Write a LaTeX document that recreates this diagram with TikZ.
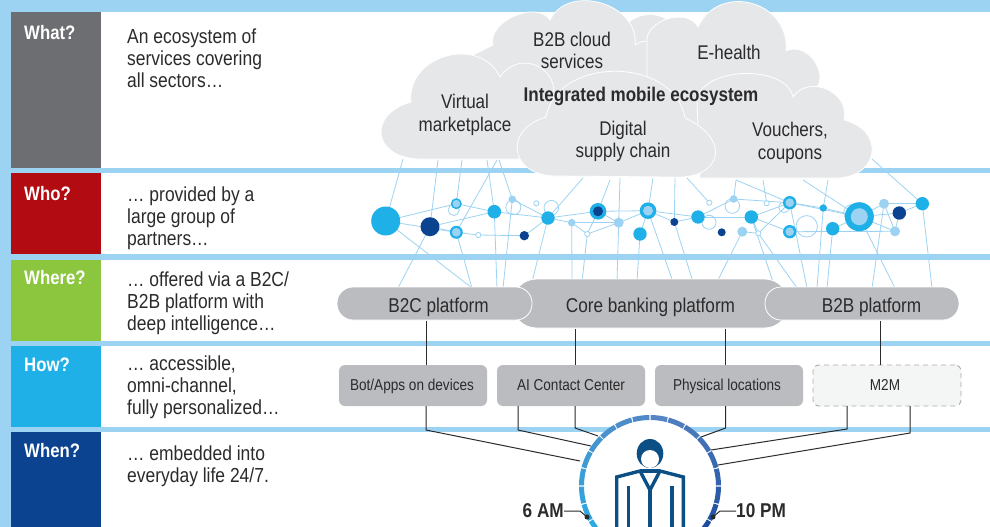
\documentclass[tikz,border=0pt]{standalone}
\usepackage{fontspec}
\setmainfont{Liberation Sans}[FakeStretch=0.86]
\usetikzlibrary{calc}
\definecolor{bandblue}{HTML}{9DD3F2}
\definecolor{cyandot}{HTML}{1FB0E8}
\definecolor{navydot}{HTML}{0C4391}
\definecolor{cloudgray}{HTML}{E6E7E8}
\definecolor{platgray}{HTML}{BBBCBF}
\definecolor{inkgray}{HTML}{2B2A2C}
\definecolor{ringL}{HTML}{2DAAE1}
\definecolor{ringM}{HTML}{5585C4}
\definecolor{ringR}{HTML}{1F4E9E}
\definecolor{suitblue}{HTML}{0B4F85}
\tikzstyle{rowbox}=[rectangle,anchor=north west,inner sep=0pt,minimum width=90pt]
\tikzstyle{rowhead}=[anchor=west,inner sep=0pt,text=white,font=\fontsize{19.5}{22}\selectfont\bfseries]
\tikzstyle{rowtext}=[anchor=north west,inner sep=0pt,align=left,text=inkgray,font=\fontsize{20.3}{22}\selectfont]
\tikzstyle{cloud}=[fill=cloudgray,draw=white,line width=0.8pt]
\tikzstyle{cloudtext}=[align=center,inner sep=0pt,text=inkgray,font=\fontsize{19.8}{22.5}\selectfont]
\tikzstyle{lobe}=[bend left=80,looseness=#1]
\tikzstyle{link}=[draw=bandblue,line width=0.8pt]
\tikzstyle{dotc}=[circle,fill=cyandot,inner sep=0pt]
\tikzstyle{dotn}=[circle,fill=navydot,inner sep=0pt]
\tikzstyle{dotl}=[circle,fill=bandblue,inner sep=0pt]
\tikzstyle{platform}=[rectangle,rounded corners=16pt,fill=platgray,draw=white,line width=0.8pt,inner sep=0pt,text height=17.4pt,text depth=0pt,text=inkgray,font=\fontsize{20}{22}\selectfont]
\tikzstyle{channel}=[rectangle,rounded corners=6pt,fill=platgray,inner sep=0pt,minimum width=148pt,minimum height=41pt,text height=11pt,text depth=0.5pt,text=inkgray,font=\fontsize{15.8}{18}\selectfont]
\tikzstyle{wire}=[draw=inkgray,line width=1pt]
\tikzstyle{timetext}=[inner sep=0pt,text=inkgray,font=\fontsize{20}{22}\selectfont\bfseries]
\begin{document}
\begin{tikzpicture}[x=1pt,y=-1pt]
  \useasboundingbox (0,0) rectangle (990,527);
  \fill[bandblue] (0,0) rectangle (990,527);
  \fill[white] (101,12) rectangle (990,168);
  \fill[white] (101,173) rectangle (990,254);
  \fill[white] (101,260) rectangle (990,341);
  \fill[white] (101,346) rectangle (990,427);
  \fill[white] (101,432) rectangle (990,527);

  % rows
  \node[rowbox,fill={rgb,255:red,109;green,110;blue,113},minimum height=156pt] (whatbox) at (11,12) {};
  \node[rowbox,fill={rgb,255:red,178;green,12;blue,18},minimum height=81pt] (whobox) at (11,173) {};
  \node[rowbox,fill={rgb,255:red,140;green,198;blue,63},minimum height=81pt] (wherebox) at (11,260) {};
  \node[rowbox,fill=cyandot,minimum height=81pt] (howbox) at (11,346) {};
  \node[rowbox,fill=navydot,minimum height=95pt] (whenbox) at (11,432) {};
  \node[rowhead] (what) at (24,33) {What?};
  \node[rowhead] (who) at (24,194) {Who?};
  \node[rowhead] (where) at (24,278) {Where?};
  \node[rowhead] (how) at (24,365) {How?};
  \node[rowhead] (when) at (24,451) {When?};
  \node[rowtext] (whattext) at (127,29) {An ecosystem of\\services covering\\all sectors…};
  \node[rowtext] (whotext) at (127,187) {… provided by a\\large group of\\partners…};
  \node[rowtext] (wheretext) at (127,272) {… offered via a B2C/\\B2B platform with\\deep intelligence…};
  \node[rowtext] (howtext) at (127,356) {… accessible,\\omni-channel,\\fully personalized…};
  \node[rowtext] (whentext) at (127,446) {… embedded into\\everyday life 24/7.};

  % network
  \foreach \nm/\px/\py in {
    n1/385.7/221, n2/430/226.7, n3/456.3/203.7, n4/456.3/232.3, n5/478.3/235, n6/494.3/211.7, n7/512.3/199.3,
    n8/536.3/203.3, n10/548/218, n11/524.3/235.7, n12/571.7/222.7, n13/587.3/234, n14/598/211.3, n15/618.7/222.7,
    n16/648/210.7, n17/640/234, n18/674.3/222, n19/698/217, n20/721.7/232.3, n21/733.7/199, n22/709.3/202.7,
    n23/766.7/203.3, n24/751.3/217, n25/742.3/231.7, n26/758.3/233.3, n27/789.7/202.7, n28/789.7/231.7,
    n29/823.3/208, n30/832.7/228.7, n31/859.3/216.7, n32/884/203.7, n33/899.3/213, n34/895/231.3, n35/922.3/203.7}
    \coordinate (\nm) at (\px,\py);
  \foreach \a/\b in {n1/n3,n1/n4,n2/n4,n2/n6,n3/n6,n4/n5,n5/n11,n11/n10,n6/n10,n7/n10,n10/n14,n10/n12,n12/n15,n12/n13,
    n13/n15,n13/n14,n14/n16,n15/n16,n16/n17,n16/n19,n16/n18,n18/n19,n19/n21,n19/n24,n21/n27,n24/n27,n24/n26,n25/n26,
    n26/n27,n27/n29,n29/n31,n24/n28,n31/n32,n31/n33,n31/n34,n32/n34,n33/n34,n33/n35,n32/n35,n30/n31,n28/n34,n14/n15,n27/n31}
    \draw[link] (\a)--(\b);
  \foreach \a/\px/\py in {n1/403/159,n2/438/160,n3/462/160,n6/487/160,n4/497/160,n7/499/160,n10/583/178,n14/610/180,
    n15/620/178,n16/653/178,n18/675/178,n22/687/178,n21/736/180,n27/736/180,n23/763/180,n31/803/180,n29/828/180,n35/872/159,
    n2/398/288,n1/472/288,n4/472/288,n6/497/288,n7/503/288,n10/532/282,n12/572/282,n13/582/282,n15/617/282,n17/637/282,
    n16/673/282,n18/693/282,n25/717/282,n24/773/282,n26/797/288,n27/807/288,n29/817/288,n30/827/288,n31/895/288,n32/872/288,n35/932/288}
    \draw[link] (\a)--(\px,\py);
  \foreach \px/\py/\rad in {453.7/210/5.5,513.3/207.3/7.5,551.3/207.7/7.3,709/222.3/7,732.3/206/7.3,
    784/207.3/5.3,806.7/226.3/10.7,851.7/212.7/8}
    \draw[bandblue,line width=0.8pt] (\px,\py) circle[radius=\rad];
  \foreach \a/\st/\rad in {
    n1/dotc/14.5, n2/dotn/9.5, n3/dotc/5.5, n4/dotc/6.5, n6/dotc/6.8, n7/dotl/3.8, n10/dotc/6.7, n11/dotn/4.7,
    n12/dotl/3.8, n14/dotc/8.3, n15/dotl/5, n16/dotc/8.3, n17/dotc/6.7, n18/dotn/4, n19/dotc/6.7, n20/dotn/4,
    n21/dotl/3.8, n24/dotc/6.7, n25/dotl/5, n27/dotc/6.7, n28/dotc/6.7, n29/dotc/3.7, n30/dotc/6.7, n31/dotc/14.5,
    n32/dotl/5, n33/dotn/6.7, n34/dotl/5, n35/dotc/6.7}
    \node[\st,minimum size=2*\rad*1pt] at (\a) {};
  \foreach \a in {n5,n8,n13,n22,n23,n26}
    \draw[bandblue,line width=0.8pt,fill=white] (\a) circle[radius=2.6];
  % inner spots
  \foreach \a/\st/\rad in {n3/dotl/3.8,n4/dotl/4.4,n14/dotn/5,n16/dotl/5,n27/dotl/4.3,n28/dotl/4.3,n31/dotl/8.5}
    \node[\st,minimum size=2*\rad*1pt] at (\a) {};

  % clouds
  \fill[cloudgray] (650,47) circle[radius=32];
  \path[cloud] (473,130)--(473,55)--(493,45) to[lobe=1.0] (550,20) to[lobe=1.2] (635,45) to[lobe=1.4] (665,75)--(665,130)--cycle;
  \path[cloud] (647,130)--(647,43) to[lobe=1.1] (698,27) to[lobe=1.4] (786,51) to[lobe=1.2] (815,90)--(815,130)--cycle;
  \path[cloud] (417,159) to[lobe=2.0] (411,102) to[lobe=1.3] (500,77) to[lobe=1.5] (553,100)--(560,159)--cycle;
  \path[cloud] (700,178)--(697,100) to[lobe=0.9] (793,97) to[lobe=1.3] (844,120) to[lobe=1.8] (840,178)--cycle;
  \path[cloud] (553,176) to[lobe=1.9] (546,117) to[lobe=1.15] (685,118) to[lobe=2.2] (670,177)--cycle;
  \node[cloudtext,font=\fontsize{19.8}{22.5}\selectfont\bfseries] (mobile) at (641,96) {Integrated mobile ecosystem};
  \node[cloudtext] (virtual) at (465,115) {Virtual\\marketplace};
  \node[cloudtext] (cloudsvc) at (572,50.5) {B2B cloud\\services};
  \node[cloudtext] (ehealth) at (729,52) {E-health};
  \node[cloudtext] (supply) at (623,141.5) {Digital\\supply chain};
  \node[cloudtext] (vouchers) at (790,143) {Vouchers,\\coupons};

  % platforms
  \node[platform,rounded corners=24pt,minimum width=276pt,minimum height=49pt] (core) at (650.5,303.5) {Core banking platform};
  \node[platform,minimum width=195pt,minimum height=33pt] (b2c) at (434.5,303.5) {\hspace*{8pt}B2C platform};
  \node[platform,minimum width=194pt,minimum height=33pt] (b2b) at (862,303.5) {\hspace*{19pt}B2B platform};

  \node[channel] (bot) at (413,385.5) {\hspace*{-2pt}Bot/Apps on devices};
  \node[channel] (contact) at (571,385.5) {AI Contact Center};
  \node[channel] (physical) at (729,385.5) {\hspace*{-4pt}Physical locations};
  \node[channel,fill={rgb,255:red,244;green,245;blue,245},draw={rgb,255:red,170;green,171;blue,173},line width=0.9pt,dash pattern=on 5pt off 4pt] (m2m) at (887,385.5) {\hspace*{-4pt}M2M};

  \coordinate (c1) at (580,461); \coordinate (c2) at (591,446); \coordinate (c3) at (598,436);
  \coordinate (c4) at (701,437); \coordinate (c5) at (711,450); \coordinate (c6) at (718,465);
  \draw[wire] (426,321)--(426,365); \draw[wire] (575,329)--(575,365);
  \draw[wire] (725.7,329)--(725.7,365); \draw[wire] (880,321)--(880,365);
  \draw[wire] (426,406)--(426,430)--(c1);
  \draw[wire] (518,406)--(518,430)--(c2);
  \draw[wire] (575,406)--(575,428)--(c3);
  \draw[wire] (725.7,406)--(725.7,428)--(c4);
  \draw[wire] (847,406)--(847,429)--(c5);
  \draw[wire] (910,406)--(910,433)--(c6);

  % person
  \coordinate (hub) at (650,486);
  \fill[white] (hub) circle[radius=68];
  \foreach \i in {0,...,17}{
    \ifnum\i<9
      \pgfmathsetmacro{\tone}{100-\i*100/9}
      \colorlet{segtone}{ringL!\tone!ringM}
    \else
      \pgfmathsetmacro{\tone}{100-(\i-9)*100/8}
      \colorlet{segtone}{ringM!\tone!ringR}
    \fi
    \pgfmathsetmacro{\anga}{-(225-\i*15)+0.5}
    \pgfmathsetmacro{\angb}{-(210-\i*15)-0.5}
    \draw[color=segtone,line width=5pt] ($(hub)+(\anga:68.5)$) arc[start angle=\anga,end angle=\angb,radius=68.5];
  }
  \fill[suitblue] (650,453.5) ellipse[x radius=13.3,y radius=14.5];
  \fill[white] (650,459) circle[radius=9];
  \draw[suitblue,line width=3.4pt] (616.7,530)--(616.7,477)--(640,471)--(650,490)--(660,471)--(683.3,477)--(683.3,530);
  \draw[suitblue,line width=3.4pt] (640,471)--(660,471);
  \draw[suitblue,line width=3.4pt] (650,490)--(650,530);
  \draw[suitblue,line width=3.4pt] (628.3,486)--(628.3,530);
  \draw[suitblue,line width=3.4pt] (672,486)--(672,530);

  \node[timetext,anchor=east] (am) at (564,511) {6 AM};
  \node[timetext,anchor=west] (pm) at (736,511) {10 PM};
  \coordinate (amdot) at (587,517); \coordinate (pmdot) at (713,517);
  \coordinate (amelbow) at (580,511); \coordinate (pmelbow) at (720,511);
  \fill[inkgray] (amdot) circle[radius=2.5]; \fill[inkgray] (pmdot) circle[radius=2.5];
  \draw[wire] (am.east)--(amelbow)--(amdot);
  \draw[wire] (pm.west)--(pmelbow)--(pmdot);
\end{tikzpicture}
\end{document}
